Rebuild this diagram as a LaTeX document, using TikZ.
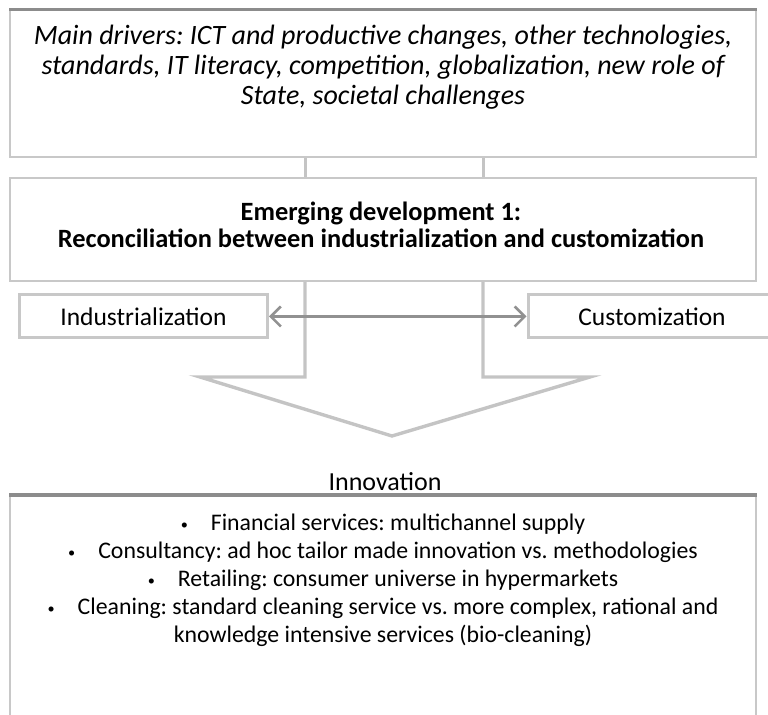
\documentclass[tikz,border=0pt]{standalone}
\usepackage{fontspec}
\setmainfont{Carlito}
\usetikzlibrary{arrows.meta,positioning}
\definecolor{boxgray}{RGB}{200,200,200}
\definecolor{edgegray}{RGB}{140,140,140}
\definecolor{flowgray}{RGB}{196,196,196}
\definecolor{linkgray}{RGB}{145,145,145}
\newcommand\smallbul{\raisebox{0.15ex}{\scalebox{0.6}{\textbullet}}\hspace{11.5pt}}
\frenchspacing
\begin{document}
\begin{tikzpicture}[x=0.5pt,y=-0.5pt,
  box/.style={draw=boxgray,line width=1pt,minimum width=373pt,inner sep=0pt},
  topedge/.style={draw=edgegray,line width=1.6pt},
  side/.style={draw=boxgray,line width=1.5pt,minimum width=124pt,minimum height=21.5pt,inner sep=0pt},
  flow/.style={draw=flowgray,line width=1.7pt,line join=miter},
  txt/.style={align=center,inner sep=0pt,font=\fontsize{11.9}{14}\selectfont}]
\useasboundingbox (0,0) rectangle (768,715);
\clip (0,0) rectangle (768,715);
% drivers
\node[box,minimum height=73.5pt] (drivers) at (383,84) {};
\draw[topedge] (drivers.north west) -- (drivers.north east);
\node[txt,anchor=north,font=\itshape\fontsize{14}{15}\selectfont] (driverstxt) at (383,25)
  {Main drivers: ICT and productive changes, other technologies,\\
   standards, IT literacy, competition, globalization, new role of\\
   State, societal challenges};
% emerging development
\node[box,minimum height=51.5pt] (emerging) at (383,229.5) {};
\node[txt,anchor=north,font=\bfseries\fontsize{13.2}{13.5}\selectfont] (emergingtxt) at (381,202)
  {Emerging development 1:\\
   Reconciliation between industrialization and customization};
\coordinate (stemL) at (305,0);
\coordinate (stemR) at (483,0);
\draw[flow,line width=1.5pt] (drivers.south -| stemL) -- (emerging.north -| stemL);
\draw[flow,line width=1.5pt] (drivers.south -| stemR) -- (emerging.north -| stemR);
% block arrow
\coordinate (tip) at (392,436);
\draw[flow] (emerging.south -| stemL) -- (305,377) -- (200,377) -- (tip)
  -- (590,377) -- (483,377) -- (emerging.south -| stemR);
% the two poles
\node[side,txt,font=\fontsize{12.75}{14}\selectfont] (indus) at (143.5,316.5) {Industrialization};
\node[side,txt,font=\fontsize{12.75}{14}\selectfont] (custom) at (652,316.5) {Customization};
\draw[draw=linkgray,line width=1.3pt,{Straight Barb[length=5pt,width=10pt]}-{Straight Barb[length=5pt,width=10pt]}]
  (indus.east) -- (custom.west);
% innovation
\node[txt,anchor=base,font=\fontsize{13}{14}\selectfont] (innov) at (385,491) {Innovation};
\node[box,minimum height=120pt,anchor=north] (examples) at (383,495) {};
\draw[topedge] (examples.north west) -- (examples.north east);
\node[txt,anchor=north] (examplestxt) at (383,514)
  {\smallbul Financial services: multichannel supply\\
   \smallbul Consultancy: ad hoc tailor made innovation vs. methodologies\\
   \smallbul Retailing: consumer universe in hypermarkets\\
   \smallbul Cleaning: standard cleaning service vs. more complex, rational and\\
   knowledge intensive services (bio-cleaning)};
\end{tikzpicture}
\end{document}
